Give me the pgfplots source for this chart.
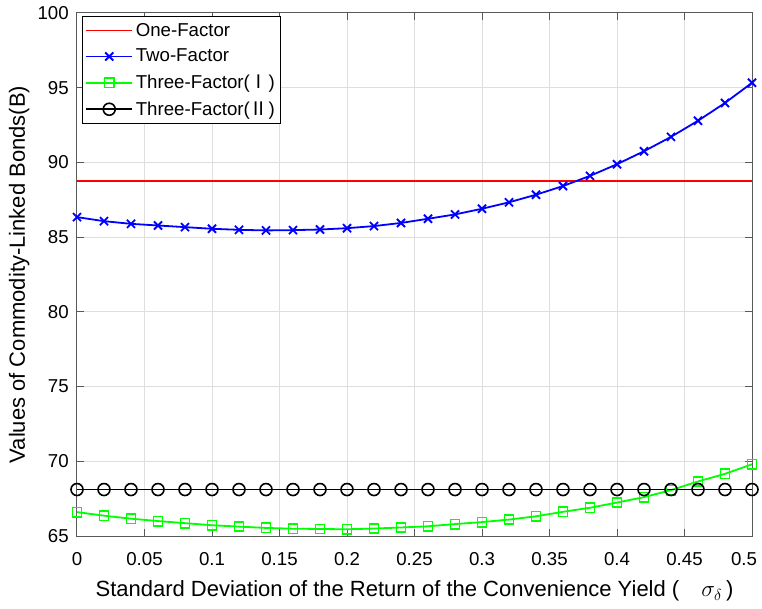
\documentclass[border=0pt]{standalone}
\usepackage{pgfplots}
\pgfplotsset{compat=1.18}
\usetikzlibrary{calc}
\usepackage{fontspec}
\setmainfont{Liberation Sans}
\newfontfamily\cjk{Noto Sans CJK SC}

\pgfplotstableread{
x      two    threeI  threeII
0.00   86.34  66.60   68.11
0.02   86.07  66.36   68.11
0.04   85.89  66.16   68.11
0.06   85.78  66.00   68.11
0.08   85.67  65.86   68.11
0.10   85.56  65.72   68.11
0.12   85.49  65.63   68.11
0.14   85.45  65.54   68.11
0.16   85.47  65.49   68.11
0.18   85.51  65.47   68.11
0.20   85.60  65.45   68.11
0.22   85.74  65.50   68.11
0.24   85.95  65.57   68.11
0.26   86.23  65.65   68.11
0.28   86.52  65.80   68.11
0.30   86.90  65.93   68.11
0.32   87.33  66.10   68.11
0.34   87.84  66.32   68.11
0.36   88.42  66.62   68.11
0.38   89.10  66.89   68.11
0.40   89.88  67.24   68.11
0.42   90.75  67.60   68.11
0.44   91.71  68.07   68.11
0.46   92.79  68.65   68.11
0.48   93.98  69.16   68.11
0.50   95.33  69.80   68.11
}\bonds

\pgfplotstableread{
x     one
0.00  88.75
0.50  88.75
}\onefactor

\begin{document}
\begin{tikzpicture}
\begin{axis}[
  name=ax,
  scale only axis,
  width=506.25pt, height=392.25pt,
  xmin=0, xmax=0.5, ymin=65, ymax=100,
  xtick={0,0.05,...,0.5},
  xticklabels={0,0.05,0.1,0.15,0.2,0.25,0.3,0.35,0.4,0.45,\hspace*{-12pt}0.5},
  ytick={65,70,...,100},
  /pgf/number format/assume math mode=true,
  tick label style={font=\fontsize{14}{17}\selectfont},
  xticklabel style={anchor=north, inner sep=0pt, yshift=-12.5pt},
  yticklabel style={anchor=east, inner sep=0pt, xshift=-6pt},
  grid=major,
  major grid style={black!13, line width=0.75pt},
  axis line style={black!65, line width=0.75pt},
  tick style={black!65, line width=0.75pt},
  major tick length=5pt,
  tick align=inside,
  xlabel={Standard Deviation of the Return of the Convenience Yield (\quad$\sigma_\delta$\,)},
  ylabel={Values of Commodity-Linked Bonds(B)},
  every axis x label/.style={at={(axis description cs:0.5,0)}, anchor=base,
    yshift=-45.5pt, font=\fontsize{16.5}{19}\selectfont},
  every axis y label/.style={at={(axis description cs:0,0.5)}, rotate=90, anchor=base,
    yshift=39pt, font=\fontsize{16.5}{19}\selectfont},
  legend cell align=left,
  legend style={draw=black, fill=white,
    font=\fontsize{14}{16}\selectfont,
    inner xsep=2pt, inner ysep=3pt, row sep=4.2pt,
    at={(0.008,0.994)}, anchor=north west},
  legend image code/.code={
    \draw[mark repeat=2, mark phase=2, #1]
      plot coordinates {(0pt,0pt) (17.25pt,0pt) (34.5pt,0pt)};
  },
]
\addplot[color=red, solid, line width=1.35pt, mark=none, forget plot]
  table[x=x, y=one] {\onefactor};
\addlegendimage{color=red, solid, line width=1.35pt, mark=none}
\addlegendentry{One-Factor}
\addplot[color=blue, solid, line width=1.35pt, mark=x, mark size=4.3pt,
  mark options={line width=1.4pt}]
  table[x=x, y=two] {\bonds};
\addlegendentry{Two-Factor}
\addplot[color=green, solid, line width=1.35pt, mark=square, mark size=3.5pt,
  mark options={line width=1.2pt}]
  table[x=x, y=threeI] {\bonds};
\addlegendentry{Three-Factor({\cjk Ⅰ})}
\addplot[color=black, solid, line width=1.35pt, mark=o, mark size=4.5pt,
  mark options={line width=1.2pt}]
  table[x=x, y=threeII] {\bonds};
\addlegendentry{Three-Factor({\cjk Ⅱ})}
\end{axis}
\pgfresetboundingbox
\path ($(ax.south west)+(-57.75pt,-54pt)$) rectangle ($(ax.north east)+(7.5pt,9.75pt)$);
\end{tikzpicture}
\end{document}
